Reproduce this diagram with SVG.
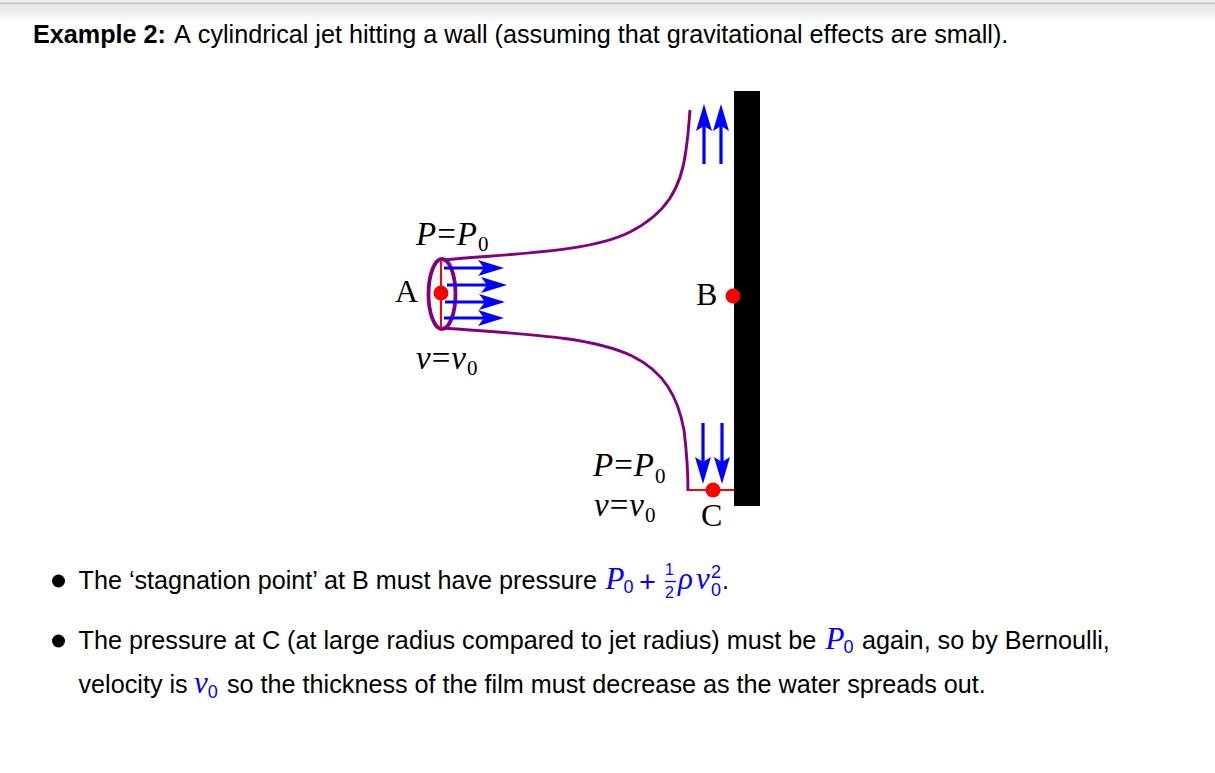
<svg xmlns="http://www.w3.org/2000/svg" width="1215" height="773" viewBox="0 0 1215 773">
<style>
.t{font-family:"Liberation Sans",Arial,sans-serif;font-size:25.2px;fill:#000}
.b{font-weight:bold}
.k{font-kerning:none}
.s{font-family:"Liberation Serif","Times New Roman",serif;fill:#000}
.l{font-size:33px}
.c{font-size:32px}
.i{font-style:italic}
.m{font-family:"Liberation Serif","Times New Roman",serif;font-style:italic;fill:#0000ff;font-size:31px}
.z{font-family:"Liberation Sans",Arial,sans-serif;font-style:normal;font-size:18px}
.n{font-family:"Liberation Sans",Arial,sans-serif;fill:#0000ff}
.ar{stroke:#0000ff;stroke-width:3.2;fill:none}
.ah{fill:#0000ff;stroke:none}
.jet{stroke:#800080;stroke-width:2.900;fill:none}
.red{stroke:#ff0000;stroke-width:2;fill:none}
</style>
<defs>
<linearGradient id="sh" x1="0" y1="0" x2="0" y2="1"><stop offset="0" stop-color="#e4e4e4"/><stop offset="1" stop-color="#ffffff"/></linearGradient>
<path id="hr" class="ah" d="M0 0L-26 -8L-20 0L-26 8Z"/>
<path id="hd" class="ah" d="M0 0L-8 -27L0 -22L8 -27Z"/>
<path id="hu" class="ah" d="M0 0L-8 27L0 22L8 27Z"/>
</defs>
<rect width="1215" height="773" fill="#fff"/>
<rect y="0" width="1215" height="3" fill="#eeeeee"/>
<rect y="3" width="1215" height="21" fill="url(#sh)"/>
<rect y="2.500" width="1215" height="1.500" fill="#c8c8c8"/>
<g id="heading"><text class="t b" x="33" y="43">Example 2:</text><text class="t k" x="174" y="43">A cylindrical jet hitting a wall (assuming that gravitational effects are small).</text></g>
<g id="wall"><rect x="734" y="91" width="26" height="415" fill="#000"/></g>
<g id="connectors">
<path class="jet" d="M443 260C520 253 590 252 630 232C665 214 681 190 686 150C689 130 689 120 690 110"/>
<path class="jet" d="M443 328C520 334 590 336 632 356C665 372 678 398 684 430C687 455 688 475 688 491"/>
<ellipse class="jet" cx="442" cy="294" rx="13.500" ry="35" style="stroke-width:3.800"/>
<path class="red" d="M441 260V328"/>
<path class="red" d="M689 490H734"/>
<path class="ar" d="M444 268H486"/><use href="#hr" x="504" y="268"/>
<path class="ar" d="M447 285H489"/><use href="#hr" x="507" y="285"/>
<path class="ar" d="M445 302H487"/><use href="#hr" x="505" y="302"/>
<path class="ar" d="M444 318H486"/><use href="#hr" x="504" y="318"/>
<path class="ar" d="M704 164V124"/><use href="#hu" x="704" y="104"/>
<path class="ar" d="M721 164V124"/><use href="#hu" x="721" y="104"/>
<path class="ar" d="M703 423V464"/><use href="#hd" x="703" y="484"/>
<path class="ar" d="M722 423V464"/><use href="#hd" x="722" y="484"/>
</g>
<g id="point-a"><circle cx="441" cy="293" r="7.500" fill="#ff0000"/><text class="s c" x="395" y="302">A</text></g>
<g id="point-b"><circle cx="733" cy="296" r="7.500" fill="#ff0000"/><text class="s c" x="696" y="305">B</text></g>
<g id="point-c"><circle cx="713" cy="490" r="7.500" fill="#ff0000"/><text class="s c" x="701" y="526">C</text></g>
<g id="label-inlet-p"><text class="s l" x="416" y="245"><tspan class="i">P</tspan><tspan dx="1">=</tspan><tspan class="i" dx="1">P</tspan><tspan font-size="21" dy="6" dx="1">0</tspan></text></g>
<g id="label-inlet-v"><text class="s l" x="416" y="369"><tspan class="i">v</tspan><tspan dx="1">=</tspan><tspan class="i" dx="1">v</tspan><tspan font-size="21" dy="6" dx="1">0</tspan></text></g>
<g id="label-outlet-p"><text class="s l" x="593" y="476"><tspan class="i">P</tspan><tspan dx="1">=</tspan><tspan class="i" dx="1">P</tspan><tspan font-size="21" dy="7" dx="1">0</tspan></text></g>
<g id="label-outlet-v"><text class="s l" x="594" y="516"><tspan class="i">v</tspan><tspan dx="1">=</tspan><tspan class="i" dx="1">v</tspan><tspan font-size="21" dy="6" dx="1">0</tspan></text></g>
<g id="bullet-1">
<circle cx="58.500" cy="581" r="6.500" fill="#000"/>
<text class="t" x="78.500" y="589">The ‘stagnation point’ at B must have pressure</text>
<text class="m" x="605.500" y="589">P<tspan class="z" dy="4" dx="-1">0</tspan></text>
<text class="n" x="639" y="592" font-size="29">+</text>
<text class="n" x="665" y="575" font-size="16">1</text><path d="M665 581.500H676" stroke="#0000ff" stroke-width="1.300"/><text class="n" x="665" y="598" font-size="16">2</text>
<text class="m" x="678" y="589">ρ</text><text class="m" x="696" y="589">v</text>
<text class="n" x="711" y="578" font-size="18">2</text><text class="n" x="711" y="596" font-size="18">0</text>
<text class="t" x="722" y="589">.</text>
</g>
<g id="bullet-2">
<circle cx="58.500" cy="641" r="6.500" fill="#000"/>
<text class="t" x="78.500" y="649">The pressure at C (at large radius compared to jet radius) must be</text>
<text class="m" x="825.500" y="649">P<tspan class="z" dy="4" dx="-1">0</tspan></text>
<text class="t" x="862" y="649">again, so by Bernoulli,</text>
<text class="t" x="78.500" y="693">velocity is</text>
<text class="m" x="194" y="693">v<tspan class="z" dy="5">0</tspan></text>
<text class="t" x="227" y="693">so the thickness of the film must decrease as the water spreads out.</text>
</g>
</svg>
